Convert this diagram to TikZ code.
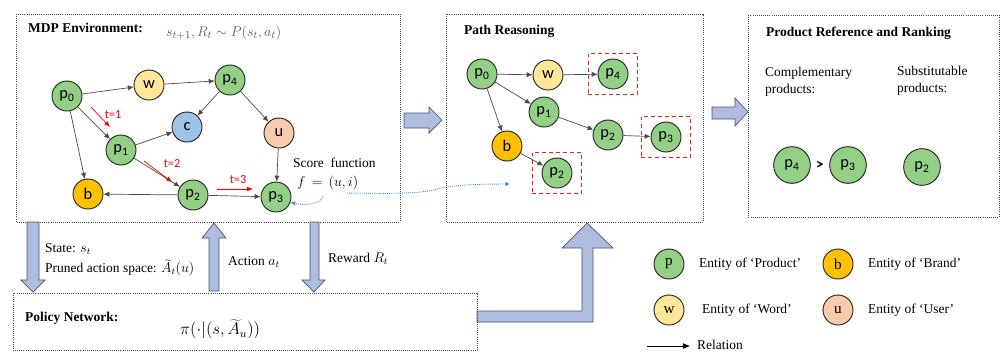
\documentclass[tikz,border=0pt]{standalone}
\usepackage{fontspec}
\setmainfont{Liberation Serif}
\newfontfamily\nfont{Carlito}
\usetikzlibrary{arrows.meta,fit}
\definecolor{pgreen}{HTML}{93CF84}
\definecolor{wyellow}{HTML}{FFE699}
\definecolor{borange}{HTML}{FFC000}
\definecolor{cblue}{HTML}{9DC3E6}
\definecolor{uorange}{HTML}{F8CBAD}
\definecolor{barrow}{HTML}{AEBCE0}
\definecolor{barrowdraw}{HTML}{4A5570}
\definecolor{sblue}{HTML}{4A86D8}
\newcommand\pl[1]{p\textsubscript{#1}}
\tikzset{
  ent/.style={circle,draw=black!85,line width=0.8pt,minimum size=0.9cm,inner sep=0pt,font=\nfont\fontsize{14}{14}\selectfont},
  pn/.style={ent,fill=pgreen},
  wn/.style={ent,fill=wyellow},
  bn/.style={ent,fill=borange},
  cn/.style={ent,fill=cblue},
  un/.style={ent,fill=uorange},
  bigp/.style={pn,minimum size=1.1cm},
  legent/.style={ent,font=\fontsize{13}{13}\selectfont},
  rel/.style={draw=black!70,line width=0.6pt,-{Latex[length=5pt,width=4.5pt]}},
  tarrow/.style={red,line width=0.6pt,-{Latex[length=5pt,width=4pt]}},
  tlab/.style={red,font=\nfont\fontsize{10.5}{10.5}\selectfont,inner sep=0pt},
  dotbox/.style={draw=black!70,densely dotted,line width=0.8pt},
  selbox/.style={draw=red!90,dashed,line width=0.9pt,inner xsep=0.28cm,inner ysep=0.15cm},
  blockarrow/.style={fill=barrow,draw=barrowdraw,line width=0.6pt},
  txt/.style={font=\fontsize{11.5}{14.5}\selectfont,inner sep=0pt},
  ttl/.style={font=\bfseries\fontsize{11.5}{13.5}\selectfont,inner sep=0pt},
  score/.style={draw=sblue,densely dotted,line width=0.8pt,-{Latex[length=4pt,width=4pt]}},
}
\begin{document}
\begin{tikzpicture}[x=0.03cm,y=-0.03cm]
\useasboundingbox (0,0) rectangle (1000,353);

% ---------- MDP environment ----------
\draw[dotbox] (16,14) rectangle (400,222);
\node[ttl,anchor=west] (mdpt) at (28,28) {MDP Environment:};
\node[txt,anchor=west,text=black!65,font=\fontsize{13}{15}\selectfont] (trans) at (166,33) {$s_{t+1},R_t\sim P(s_t,a_t)$};

\node[pn] (m0) at (67,96) {\pl{0}};
\node[wn] (mw) at (149,85) {w};
\node[pn] (m4) at (230,80) {\pl{4}};
\node[cn] (mc) at (187,127) {c};
\node[un] (mu) at (279,133) {u};
\node[pn] (m1) at (121,150) {\pl{1}};
\node[bn] (mb) at (88,194) {b};
\node[pn] (m2) at (193,195) {\pl{2}};
\node[pn] (m3) at (276,197) {\pl{3}};

\draw[rel] (m0) -- (mw);
\draw[rel] (mw) -- (m4);
\draw[rel] (m4) -- (mc);
\draw[rel] (m4) -- (mu);
\draw[rel] (m0) -- (m1);
\draw[rel] (m0) -- (mb);
\draw[rel] (m1) -- (mc);
\draw[rel] (m1) -- (m2);
\draw[rel] (m2) -- (mb);
\draw[rel] (m2) -- (m3);
\draw[rel] (mu) -- (m3);

\coordinate (t1a) at (91,107); \coordinate (t1b) at (110,127);
\coordinate (t2a) at (144,161); \coordinate (t2b) at (172,182);
\coordinate (t3a) at (217,189); \coordinate (t3b) at (253,189);
\draw[tarrow] (t1a) -- (t1b);
\draw[tarrow] (t2a) -- (t2b);
\draw[tarrow] (t3a) -- (t3b);
\node[tlab] (l1) at (113,115) {t=1};
\node[tlab] (l2) at (172,164) {t=2};
\node[tlab] (l3) at (238,180) {t=3};

\node[txt,anchor=west] (sf) at (293,163) {Score\ \ function};
\node[txt,anchor=west,font=\fontsize{13}{15}\selectfont] (fui) at (297,183) {$f\,=\,(u,i)$};
\coordinate (sfa) at (323,196);
\draw[score] (sfa) .. controls (322,204) and (305,206) .. (m3.-20);
\coordinate (sfb) at (347,193);
\coordinate (sfc) at (510,184);
\draw[score] (sfb) .. controls (400,194) and (425,193) .. (437,189) .. controls (450,185) and (480,184) .. (sfc);

% ---------- Path Reasoning ----------
\draw[dotbox] (446,14) rectangle (703,222);
\node[ttl,anchor=west] (prt) at (464,31) {Path Reasoning};
\node[pn] (r0) at (482,74) {\pl{0}};
\node[wn] (rw) at (548,75) {w};
\node[pn] (r4) at (613,74) {\pl{4}};
\node[pn] (r1) at (544,112) {\pl{1}};
\node[pn] (r2) at (608,135) {\pl{2}};
\node[pn] (r3) at (666,137) {\pl{3}};
\node[bn] (rb) at (507,146) {b};
\node[pn] (r5) at (557,173) {\pl{2}};
\draw[rel] (r0) -- (rw);
\draw[rel] (rw) -- (r4);
\draw[rel] (r0) -- (r1);
\draw[rel] (r1) -- (r2);
\draw[rel] (r2) -- (r3);
\draw[rel] (r0) -- (rb);
\draw[rel] (rb) -- (r5);
\node[selbox,fit=(r4)] (s4) {};
\node[selbox,fit=(r3)] (s3) {};
\node[selbox,fit=(r5)] (s5) {};

% ---------- Product reference ----------
\draw[dotbox] (748,15) rectangle (999,217);
\node[ttl,anchor=west] (pt) at (766,33) {Product Reference and Ranking};
\node[txt,anchor=north west,align=left] (comp) at (765,67) {Complementary\\products:};
\node[txt,anchor=north west,align=left] (subs) at (897,66) {Substitutable\\products:};
\node[bigp] (f4) at (792,165) {\pl{4}};
\node[bigp] (f3) at (848,165) {\pl{3}};
\node[font=\nfont\bfseries\fontsize{13}{13}\selectfont,inner sep=0pt] (gt) at (820,165) {>};
\node[bigp] (f2) at (922,167) {\pl{2}};

% ---------- block arrows ----------
\draw[blockarrow] (404,113) -- (429,113) -- (429,107) -- (442,120) -- (429,133) -- (429,128) -- (404,128) -- cycle;
\draw[blockarrow] (712,107) -- (735,107) -- (735,98) -- (748,112) -- (735,126) -- (735,119) -- (712,119) -- cycle;
\draw[blockarrow] (27,222) -- (39,222) -- (39,280) -- (45,280) -- (33,292) -- (21,280) -- (27,280) -- cycle;
\draw[blockarrow] (209,291) -- (219,291) -- (219,238) -- (226,238) -- (214,223) -- (202,238) -- (209,238) -- cycle;
\draw[blockarrow] (310,222) -- (319,222) -- (319,280) -- (325,280) -- (314,292) -- (302,280) -- (310,280) -- cycle;
\draw[blockarrow] (477,311) -- (582,311) -- (582,248) -- (562,248) -- (587,223) -- (613,248) -- (593,248) -- (593,322) -- (477,322) -- cycle;

\node[txt,anchor=west] (st) at (45,249) {State: $s_t$};
\node[txt,anchor=west] (pa) at (45,268) {Pruned action space: $\widetilde{A}_t(u)$};
\node[txt,anchor=west] (ac) at (228,262) {Action $a_t$};
\node[txt,anchor=west] (rwd) at (328,259) {Reward $R_t$};

% ---------- Policy network ----------
\draw[dotbox] (13,293) rectangle (477,350);
\node[ttl,anchor=west] (pnt) at (25,318) {Policy Network:};
\node[txt,anchor=west,font=\fontsize{14}{16}\selectfont] (pif) at (180,329) {$\pi\big({\cdot}\big|(s,\widetilde{A}_u)\big)$};

% ---------- legend ----------
\node[legent,fill=pgreen] (lp) at (669,264) {p};
\node[txt,anchor=west] (lpt) at (699,264) {Entity of `Product'};
\node[legent,fill=borange] (lb) at (838,264) {b};
\node[txt,anchor=west] (lbt) at (868,264) {Entity of `Brand'};
\node[legent,fill=wyellow] (lw) at (669,310) {w};
\node[txt,anchor=west] (lwt) at (702,310) {Entity of `Word'};
\node[legent,fill=uorange] (lu) at (838,310) {u};
\node[txt,anchor=west] (lut) at (868,310) {Entity of `User'};
\coordinate (ra) at (647,346);
\coordinate (rb2) at (690,346);
\draw[black,line width=0.6pt,-{Latex[length=6pt,width=5pt]}] (ra) -- (rb2);
\node[txt,anchor=west] (rlt) at (697,345) {Relation};
\end{tikzpicture}
\end{document}
